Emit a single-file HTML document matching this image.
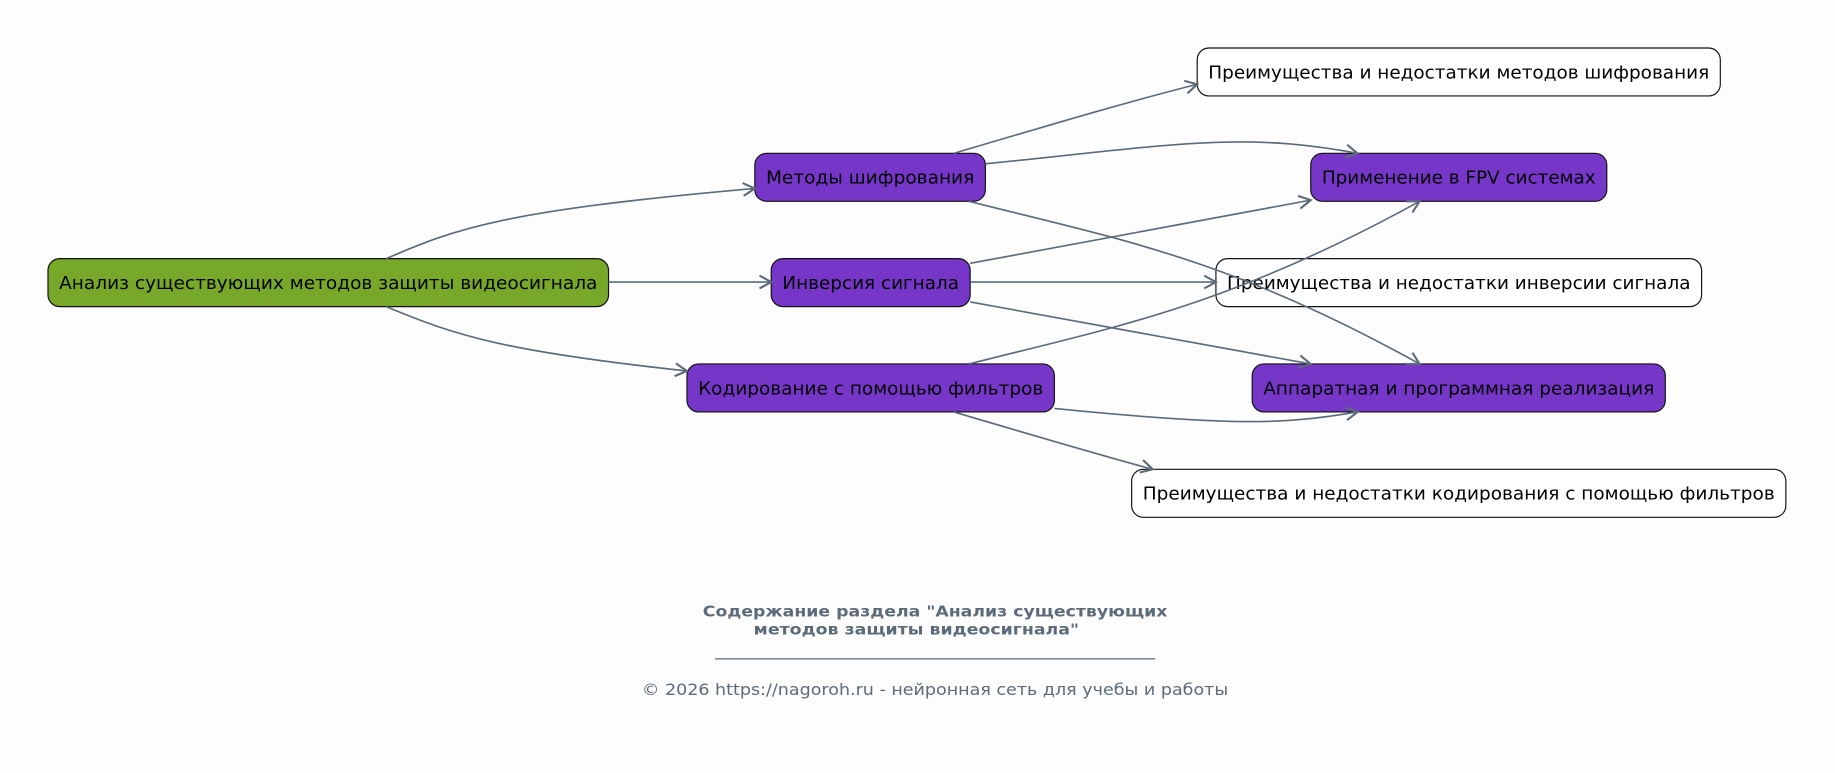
<!DOCTYPE html>
<html><head><meta charset="utf-8"><style>
html,body{margin:0;padding:0;background:#fdfdfd;}
svg{display:block;}
text{font-family:"DejaVu Sans","Liberation Sans",sans-serif;}
</style></head><body>
<svg width="1835" height="773" viewBox="0 0 1568 660.5" preserveAspectRatio="none" xmlns="http://www.w3.org/2000/svg">
<defs>
<marker id="a" markerWidth="14" markerHeight="14" refX="11" refY="7" orient="auto" markerUnits="userSpaceOnUse">
<path d="M1,1.5 L11,7 L1,12.5" fill="none" stroke="#5c6b7a" stroke-width="1.8"/>
</marker>
</defs>
<rect width="1568" height="661" fill="#fdfdfd"/>
<g stroke="#111" stroke-width="1">
<rect x="41" y="221" width="479" height="41" rx="10" fill="#77a829"/>
<rect x="645" y="131" width="197" height="41" rx="10" fill="#7636c8"/>
<rect x="659" y="221" width="170" height="41" rx="10" fill="#7636c8"/>
<rect x="587" y="311" width="314" height="41" rx="10" fill="#7636c8"/>
<rect x="1023" y="41" width="447" height="41" rx="10" fill="#fff"/>
<rect x="1120" y="131" width="253" height="41" rx="10" fill="#7636c8"/>
<rect x="1039" y="221" width="415" height="41" rx="10" fill="#fff"/>
<rect x="1070" y="311" width="353" height="41" rx="10" fill="#7636c8"/>
<rect x="967" y="401" width="559" height="41" rx="10" fill="#fff"/>
</g>
<g font-size="15" fill="#000" text-anchor="middle">
<text x="280.5" y="247" textLength="460" lengthAdjust="spacingAndGlyphs">Анализ существующих методов защиты видеосигнала</text>
<text x="743.5" y="157" textLength="178" lengthAdjust="spacingAndGlyphs">Методы шифрования</text>
<text x="744" y="247" textLength="151" lengthAdjust="spacingAndGlyphs">Инверсия сигнала</text>
<text x="744" y="337" textLength="295" lengthAdjust="spacingAndGlyphs">Кодирование с помощью фильтров</text>
<text x="1246.5" y="67" textLength="428" lengthAdjust="spacingAndGlyphs">Преимущества и недостатки методов шифрования</text>
<text x="1246.5" y="157" textLength="234" lengthAdjust="spacingAndGlyphs">Применение в FPV системах</text>
<text x="1246.5" y="247" textLength="396" lengthAdjust="spacingAndGlyphs">Преимущества и недостатки инверсии сигнала</text>
<text x="1246.5" y="337" textLength="334" lengthAdjust="spacingAndGlyphs">Аппаратная и программная реализация</text>
<text x="1246.5" y="427" textLength="540" lengthAdjust="spacingAndGlyphs">Преимущества и недостатки кодирования с помощью фильтров</text>
</g>
<g fill="none" stroke="#5c6b7a" stroke-width="1.4" marker-end="url(#a)">
<path d="M330,221 C390,195 430,180 645,161"/>
<path d="M520,241 L659,241"/>
<path d="M330,262 C390,287 430,300 587,317"/>
<path d="M815,131 C900,106 960,88 1023,72"/>
<path d="M842,140 C1000,124 1060,112 1160,131"/>
<path d="M828,172 C950,203 1050,220 1213,311"/>
<path d="M829,225 L1120,171"/>
<path d="M829,241 L1039,241"/>
<path d="M829,258 L1120,311"/>
<path d="M828,311 C950,280 1050,262 1213,172"/>
<path d="M901,349 C1060,365 1100,362 1160,352"/>
<path d="M815,352 C900,377 940,389 985,401"/>
</g>
<g fill="#5c6b7a">
<text x="799" y="527" font-size="13" font-weight="bold" text-anchor="middle" textLength="397" lengthAdjust="spacingAndGlyphs">Содержание раздела "Анализ существующих</text>
<text x="783" y="542" font-size="13" font-weight="bold" text-anchor="middle" textLength="278" lengthAdjust="spacingAndGlyphs">методов защиты видеосигнала"</text>
<line x1="611" y1="563" x2="987" y2="563" stroke="#5c6b7a" stroke-width="1"/>
<text x="799" y="594" font-size="14" text-anchor="middle" textLength="501" lengthAdjust="spacingAndGlyphs">© 2026 https://nagoroh.ru - нейронная сеть для учебы и работы</text>
</g>
</svg>
</body></html>
